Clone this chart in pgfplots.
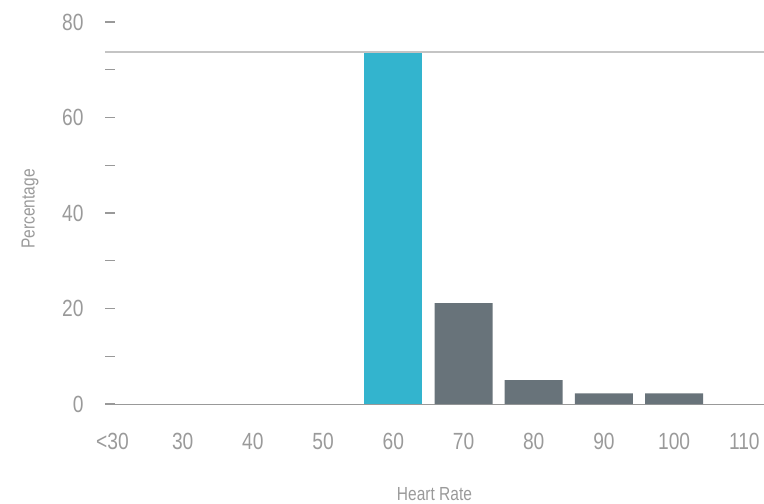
\documentclass[border=0pt]{standalone}
\usepackage{pgfplots}
\pgfplotsset{compat=1.18}
\usepackage{fontspec}
\setmainfont{Liberation Sans}[FakeStretch=0.82]
\definecolor{txtgray}{HTML}{9A9A9A}
\definecolor{barcyan}{HTML}{33B4CE}
\definecolor{bargray}{HTML}{68737A}
\definecolor{refgray}{HTML}{C4C4C4}
\definecolor{axgray}{HTML}{999999}
\begin{document}
\begin{tikzpicture}
\path[use as bounding box] (0,0) rectangle (764bp,504bp);
\begin{axis}[
    at={(105bp,100bp)}, anchor=south west,
    scale only axis, width=659bp, height=382bp,
    xmin=-0.107, xmax=9.28, ymin=0, ymax=80,
    clip=false,
    ybar, bar width=0.826, bar shift=0pt,
    axis x line=bottom, axis y line=left,
    x axis line style={-, draw=axgray, line width=1bp},
    y axis line style={draw=none},
    xtick={0,...,9},
    xticklabels={<30,30,40,50,60,70,80,90,100,110},
    xtick style={draw=none},
    ytick={0,20,40,60,80},
    minor ytick={10,30,50,70},
    tick align=inside,
    major tick length=10bp, minor tick length=10bp,
    ytick style={draw=axgray, line width=1.2bp},
    minor tick style={draw=axgray, line width=1.2bp},
    /pgf/number format/assume math mode=true,
    ticklabel style={font=\fontsize{23.5}{27}\selectfont, text=txtgray},
    yticklabel style={anchor=east, xshift=-18bp},
    xticklabel style={anchor=center, yshift=-37bp},
    xlabel={Heart Rate}, ylabel={Percentage},
    label style={font=\fontsize{19}{23}\selectfont, text=txtgray},
    xlabel style={at={(axis description cs:0.5,0)}, anchor=center, yshift=-90bp},
    ylabel style={at={(axis description cs:0,0.5)}, anchor=center, yshift=75bp, xshift=4bp},
]
\addplot[ybar, draw=none, fill=barcyan] coordinates {(4,73.7)};
\addplot[ybar, draw=none, fill=bargray] coordinates {(5,21.1) (6,5.0) (7,2.2) (8,2.2)};
\addplot[sharp plot, draw=refgray, line width=1.5bp] coordinates {(-0.107,73.7) (9.28,73.7)};
\end{axis}
\end{tikzpicture}
\end{document}
